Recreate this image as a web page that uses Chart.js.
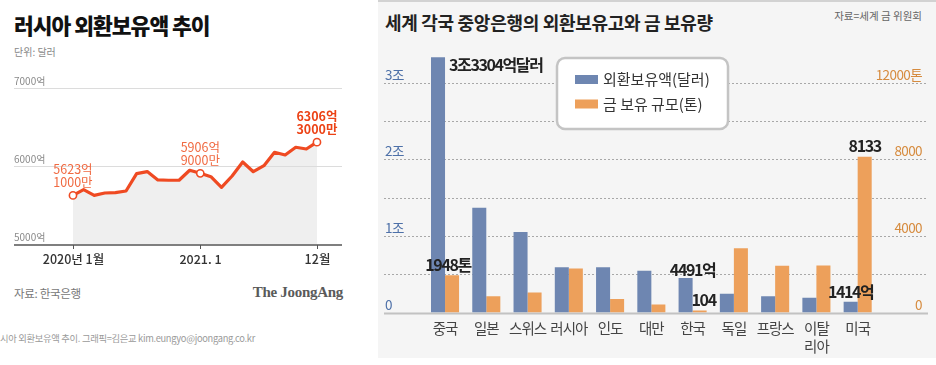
<!DOCTYPE html>
<html><head><meta charset="utf-8">
<script src="https://cdn.jsdelivr.net/npm/chart.js@4.4.1/dist/chart.umd.min.js"></script>
<style>
html,body{margin:0;padding:0;background:#fff;width:936px;height:365px;overflow:hidden;font-family:"Noto Sans CJK KR","Noto Sans",sans-serif;}
.t{position:absolute;white-space:nowrap;line-height:1;}
#panel{position:absolute;left:378px;top:0;width:558px;height:358px;background:#f5f5f5;border-top:2px solid #d2d2d2;box-sizing:border-box;}
canvas{position:absolute;}
</style></head>
<body>
<div id="panel"></div>
<div class="t" style="left:14px;top:14px;font-size:21.5px;font-weight:900;letter-spacing:-1px;color:#111;">러시아 외환보유액 추이</div>
<div class="t" style="left:14px;top:47px;font-size:10px;color:#888;">단위: 달러</div>
<div class="t" style="left:14px;top:288px;font-size:11.5px;color:#777;letter-spacing:-0.3px;">자료: 한국은행</div>
<div class="t" style="right:593px;top:285px;font-size:15px;font-weight:700;color:#5a5a5a;font-family:'Liberation Serif','DejaVu Serif',serif;letter-spacing:-0.3px;">The JoongAng</div>
<div class="t" style="left:0;top:334px;font-size:9.3px;color:#9a9a9a;letter-spacing:-0.3px;">시아 외환보유액 추이. 그래픽=김은교 kim.eungyo@joongang.co.kr</div>
<div class="t" style="left:385px;top:13px;font-size:18px;font-weight:700;color:#222;letter-spacing:-0.3px;">세계 각국 중앙은행의 외환보유고와 금 보유량</div>
<div class="t" style="right:14px;top:11px;font-size:10.5px;color:#666;">자료=세계 금 위원회</div>
<canvas id="leftChart" width="370" height="365" style="left:0;top:0;width:370px;height:365px;"></canvas>
<canvas id="rightChart" width="558" height="358" style="left:378px;top:0;width:558px;height:358px;"></canvas>
<script>
// ---------- LEFT CHART DATA ----------
const months = ['2020-01','2020-02','2020-03','2020-04','2020-05','2020-06','2020-07','2020-08','2020-09','2020-10','2020-11','2020-12',
                '2021-01','2021-02','2021-03','2021-04','2021-05','2021-06','2021-07','2021-08','2021-09','2021-10','2021-11','2021-12'];
const reservesEok = [5623, 5697, 5624, 5654, 5659, 5679, 5903, 5928, 5821, 5817, 5817, 5945,
                     5906, 5863, 5727, 5872, 6051, 5927, 6004, 6176, 6141, 6240, 6218, 6306];
const leftYTicks = [5000, 6000, 7000];
const leftYTickLabels = ['5000억', '6000억', '7000억'];
const leftXTickIndex = [0, 12, 23];
const leftXTickLabels = ['2020년 1월', '2021. 1', '12월'];
const calloutIndex = [0, 12, 23];
const calloutLines = [['5623억', '1000만'], ['5906억', '9000만'], ['6306억', '3000만']];

// ---------- RIGHT CHART DATA ----------
const countries = ['중국', '일본', '스위스', '러시아', '인도', '대만', '한국', '독일', '프랑스', ['이탈', '리아'], '미국'];
const fxReservesEok = [33304, 13680, 10510, 5900, 5900, 5460, 4491, 2460, 2110, 1940, 1414];
const goldTonnes = [1948, 846, 1040, 2298, 705, 423, 104, 3359, 2436, 2452, 8133];
const seriesNames = ['외환보유액(달러)', '금 보유 규모(톤)'];
const fxTicks = [0, 10000, 20000, 30000];
const fxTickLabels = ['0', '1조', '2조', '3조'];
const goldTicks = [0, 4000, 8000, 12000];
const goldTickLabels = ['0', '4000', '8000', '12000톤'];
const fxGridValues = [5000, 10000, 15000, 20000, 25000, 30000];
const barNotes = [
  {ds: 0, i: 0, text: '3조3304억달러'},
  {ds: 1, i: 0, text: '1948톤'},
  {ds: 0, i: 6, text: '4491억'},
  {ds: 1, i: 6, text: '104'},
  {ds: 0, i: 10, text: '1414억'},
  {ds: 1, i: 10, text: '8133'}
];

// ---------- STYLES ----------
const ORANGE = '#ef4a22';
const BLUE = '#6e86b1';
const GOLD = '#eda05b';
const KR = '"Noto Sans CJK KR", "Noto Sans", sans-serif';
const NARROW = '"Liberation Sans Narrow", "Noto Sans CJK KR", sans-serif';
const noteStyle = [
  {align: 'left', dx: 4, dy: 8},
  {align: 'center', dx: -4, dy: -10},
  {align: 'center', dx: 7, dy: -8},
  {align: 'center', dx: 4, dy: -11},
  {align: 'center', dx: 0, dy: -10},
  {align: 'center', dx: 0, dy: -11}
];
const calloutStyle = [
  {color: '#f06a42', weight: 400},
  {color: '#f06a42', weight: 400},
  {color: '#ec4215', weight: 700}
];

const leftDecor = {
  id: 'leftDecor',
  beforeDatasetsDraw(chart) {
    const {ctx, chartArea: a, scales: {y}} = chart;
    ctx.save();
    leftYTicks.forEach((v, k) => {
      const py = Math.round(y.getPixelForValue(v)) + 0.5;
      if (k > 0) {
        ctx.strokeStyle = '#dcdcdc'; ctx.lineWidth = 1;
        ctx.beginPath(); ctx.moveTo(a.left, py); ctx.lineTo(a.right, py); ctx.stroke();
      }
      ctx.fillStyle = '#8a8a8a'; ctx.font = '10px ' + KR;
      ctx.textAlign = 'left'; ctx.textBaseline = 'middle';
      ctx.fillText(leftYTickLabels[k], a.left, py - 7);
    });
    ctx.restore();
  },
  afterDatasetsDraw(chart) {
    const {ctx, chartArea: a, scales: {x, y}} = chart;
    ctx.save();
    const by = y.getPixelForValue(leftYTicks[0]) + 1;
    ctx.strokeStyle = '#555'; ctx.lineWidth = 1.6;
    ctx.beginPath(); ctx.moveTo(a.left, by); ctx.lineTo(a.right, by); ctx.stroke();
    ctx.lineWidth = 1;
    leftXTickIndex.forEach((idx, k) => {
      const px = Math.round(x.getPixelForValue(idx)) + 0.5;
      ctx.strokeStyle = '#555';
      ctx.beginPath(); ctx.moveTo(px, by); ctx.lineTo(px, by + 4); ctx.stroke();
      ctx.fillStyle = '#333'; ctx.font = '500 12.5px ' + KR;
      ctx.textAlign = 'center'; ctx.textBaseline = 'middle';
      ctx.fillText(leftXTickLabels[k], px, by + 14);
    });
    calloutIndex.forEach((idx, k) => {
      const px = x.getPixelForValue(idx);
      const py = y.getPixelForValue(reservesEok[idx]);
      const st = calloutStyle[k];
      ctx.fillStyle = st.color; ctx.font = st.weight + ' 12.5px ' + KR;
      ctx.textAlign = 'center'; ctx.textBaseline = 'middle';
      ctx.fillText(calloutLines[k][0], px, py - 26);
      ctx.fillText(calloutLines[k][1], px, py - 13);
    });
    ctx.restore();
  }
};

new Chart(document.getElementById('leftChart'), {
  type: 'line',
  data: {
    labels: months,
    datasets: [{
      data: reservesEok.map((v, i) => ({x: i, y: v})),
      borderColor: ORANGE, borderWidth: 3.2, backgroundColor: '#efefef',
      fill: 'start', tension: 0, borderJoinStyle: 'round', borderCapStyle: 'round',
      pointRadius: c => calloutIndex.includes(c.dataIndex) ? 3.6 : 0,
      pointBackgroundColor: '#fff', pointBorderColor: ORANGE, pointBorderWidth: 1.6, pointHoverRadius: 0
    }]
  },
  options: {
    responsive: false, animation: false, devicePixelRatio: 1, events: [],
    layout: {padding: {left: 14, right: 28, top: 88, bottom: 121}},
    scales: {
      x: {type: 'linear', display: false, min: -5.56, max: 25.36},
      y: {display: false, min: leftYTicks[0], max: leftYTicks[leftYTicks.length - 1]}
    },
    plugins: {legend: {display: false}, tooltip: {enabled: false}, filler: {drawTime: 'beforeDatasetsDraw'}}
  },
  plugins: [leftDecor]
});

const rightDecor = {
  id: 'rightDecor',
  beforeDatasetsDraw(chart) {
    const {ctx, scales: {y, y1}} = chart;
    const W = chart.width;
    ctx.save();
    ctx.strokeStyle = '#a8a8a8'; ctx.lineWidth = 1; ctx.setLineDash([2, 2]);
    fxGridValues.forEach(v => {
      const py = Math.round(y.getPixelForValue(v)) + 0.5;
      ctx.beginPath(); ctx.moveTo(6, py); ctx.lineTo(W - 8, py); ctx.stroke();
    });
    ctx.setLineDash([]);
    const by = y.getPixelForValue(0) + 1;
    ctx.strokeStyle = '#c2c2c2'; ctx.lineWidth = 2;
    ctx.beginPath(); ctx.moveTo(6, by); ctx.lineTo(W - 8, by); ctx.stroke();
    ctx.font = '13.5px ' + KR; ctx.textBaseline = 'middle';
    ctx.letterSpacing = '-0.6px';
    fxTicks.forEach((v, k) => {
      ctx.fillStyle = '#4d70a8'; ctx.textAlign = 'left';
      ctx.fillText(fxTickLabels[k], 7, y.getPixelForValue(v) - 8);
    });
    goldTicks.forEach((v, k) => {
      ctx.fillStyle = '#d68b3e'; ctx.textAlign = 'right';
      ctx.fillText(goldTickLabels[k], W - 14, y1.getPixelForValue(v) - 8);
    });
    ctx.restore();
  },
  afterDatasetsDraw(chart) {
    const {ctx, scales: {x, y}} = chart;
    ctx.save();
    // bar value notes
    ctx.fillStyle = '#222'; ctx.textBaseline = 'middle';
    ctx.font = 'bold 16px ' + NARROW; ctx.letterSpacing = '-1.4px';
    barNotes.forEach((n, k) => {
      const bar = chart.getDatasetMeta(n.ds).data[n.i];
      const st = noteStyle[k];
      ctx.textAlign = st.align;
      const bx = st.align === 'left' ? bar.x + bar.width / 2 : bar.x;
      ctx.fillText(n.text, bx + st.dx, bar.y + st.dy);
    });
    // category labels
    ctx.fillStyle = '#444'; ctx.font = '14.5px ' + KR; ctx.letterSpacing = '-1px';
    ctx.textAlign = 'center';
    const by = y.getPixelForValue(0);
    countries.forEach((c, i) => {
      const px = x.getPixelForValue(i);
      const lines = Array.isArray(c) ? c : [c];
      lines.forEach((ln, j) => ctx.fillText(ln, px, by + 16 + j * 18));
    });
    // legend
    ctx.letterSpacing = '0px';
    const lx = 179, ly = 58, lw = 171, lh = 71;
    ctx.fillStyle = '#fff'; ctx.strokeStyle = '#c4c4c4'; ctx.lineWidth = 2.5;
    ctx.beginPath(); ctx.roundRect(lx, ly, lw, lh, 8); ctx.fill(); ctx.stroke();
    chart.data.datasets.forEach((ds, k) => {
      const cy = ly + 21.5 + k * 24.5;
      ctx.fillStyle = ds.backgroundColor;
      ctx.fillRect(lx + 18, cy - 4.5, 23, 9);
      ctx.fillStyle = '#333'; ctx.font = '15px ' + KR; ctx.textAlign = 'left';
      ctx.fillText(ds.label, lx + 46, cy);
    });
    ctx.restore();
  }
};

new Chart(document.getElementById('rightChart'), {
  type: 'bar',
  data: {
    labels: countries,
    datasets: [
      {label: seriesNames[0], data: fxReservesEok, backgroundColor: BLUE, yAxisID: 'y',
       categoryPercentage: 0.68, barPercentage: 1, borderWidth: 0},
      {label: seriesNames[1], data: goldTonnes, backgroundColor: GOLD, yAxisID: 'y1',
       categoryPercentage: 0.68, barPercentage: 1, borderWidth: 0}
    ]
  },
  options: {
    responsive: false, animation: false, devicePixelRatio: 1, events: [],
    layout: {padding: {left: 46.4, right: 57.7, top: 52, bottom: 45.5}},
    scales: {
      x: {display: false},
      y: {display: false, min: 0, max: 34000},
      y1: {display: false, min: 0, max: 13600, position: 'right'}
    },
    plugins: {legend: {display: false}, tooltip: {enabled: false}}
  },
  plugins: [rightDecor]
});
</script>
</body></html>
